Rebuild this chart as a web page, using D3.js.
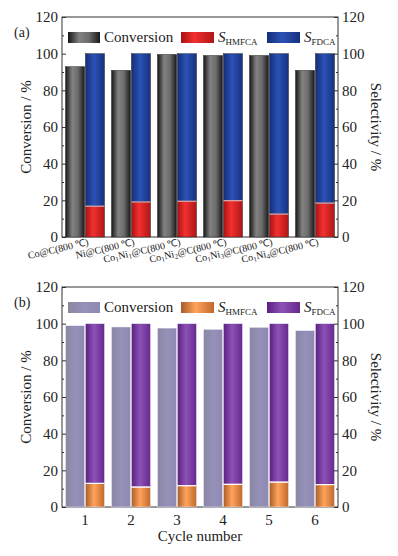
<!DOCTYPE html>
<html lang="en">
<head>
<meta charset="UTF-8">
<title>Conversion and selectivity</title>
<script src="https://cdn.jsdelivr.net/npm/d3@7"></script>
<style>
  body { margin: 0; background: #fff; }
  svg { display: block; font-family: "Liberation Serif", "Times New Roman", serif; }
  .tick text { font-size: 15px; fill: #222; }
  .axis path, .axis line { stroke: #333; }
</style>
</head>
<body>
<svg id="chart" width="398" height="556"></svg>
<script>
// panel (a): catalysts
const catalysts = ["Co@C(800 ℃)", "Ni@C(800 ℃)", "Co_1Ni_1@C(800 ℃)", "Co_1Ni_2@C(800 ℃)", "Co_1Ni_3@C(800 ℃)", "Co_1Ni_4@C(800 ℃)"];
const convA = [92.9, 90.9, 99.6, 99.0, 99.0, 90.9];
const hmfcaA = [16.8, 19.1, 19.5, 19.8, 12.5, 18.5];
const fdcaA = [83.2, 80.9, 80.5, 80.2, 87.5, 81.5];

// panel (b): recycling runs
const cycles = ["1", "2", "3", "4", "5", "6"];
const convB = [98.9, 98.2, 97.6, 96.9, 98.0, 96.2];
const hmfcaB = [12.9, 10.9, 11.6, 12.4, 13.6, 12.2];
const fdcaB = [87.1, 89.1, 88.4, 87.6, 86.4, 87.8];

const yTicks = [0, 20, 40, 60, 80, 100, 120];

const svg = d3.select("#chart");
const defs = svg.append("defs");

function grad(id, stops) {
  const g = defs.append("linearGradient").attr("id", id)
    .attr("x1", 0).attr("x2", 1).attr("y1", 0).attr("y2", 0);
  stops.forEach(s => g.append("stop").attr("offset", s[0]).attr("stop-color", s[1]));
}
grad("gGray", [[0, "#161616"], [0.35, "#828282"], [0.65, "#6c6c6c"], [1, "#181818"]]);
grad("gRed", [[0, "#a81212"], [0.4, "#f23030"], [1, "#b01616"]]);
grad("gBlue", [[0, "#142e78"], [0.45, "#2b52b6"], [1, "#16327e"]]);
grad("gLav", [[0, "#8a86a2"], [0.5, "#9591b8"], [1, "#8d89b0"]]);
grad("gPur", [[0, "#5c1f80"], [0.45, "#8c52b6"], [1, "#68288e"]]);
grad("gOra", [[0, "#a85c28"], [0.45, "#ffa45c"], [1, "#c0682c"]]);

const x0 = 62, x1 = 338;

function serif(sel) {
  sel.attr("font-family", null).attr("font-size", null);
  sel.select(".domain").remove();
}

function panel(opts) {
  const top = opts.top, bottom = opts.top + 220;
  const g = svg.append("g");

  const x = d3.scaleBand().domain(opts.cats).range([x0, x1])
    .paddingInner(0.152).paddingOuter(0.076);
  const xs = d3.scaleBand().domain(["conv", "sel"]).range([0, x.bandwidth()]).paddingInner(0.04);
  const y = d3.scaleLinear().domain([0, 120]).range([bottom, top]);

  // frame
  g.append("rect").attr("x", x0).attr("y", top).attr("width", x1 - x0).attr("height", bottom - top)
    .attr("fill", "none").attr("stroke", "#333").attr("stroke-width", 1);

  const bars = g.append("g");
  opts.cats.forEach((c, i) => {
    const bx = x(c);
    bars.append("rect")
      .attr("x", bx + xs("conv")).attr("width", xs.bandwidth())
      .attr("y", y(opts.conv[i])).attr("height", y(0) - y(opts.conv[i]))
      .attr("fill", `url(#${opts.fills[0]})`).attr("stroke", opts.edge).attr("stroke-width", 0.5);
    bars.append("rect")
      .attr("x", bx + xs("sel")).attr("width", xs.bandwidth())
      .attr("y", y(opts.hmfca[i])).attr("height", y(0) - y(opts.hmfca[i]))
      .attr("fill", `url(#${opts.fills[1]})`).attr("stroke", opts.edge).attr("stroke-width", 0.5);
    const tot = opts.hmfca[i] + opts.fdca[i];
    bars.append("rect")
      .attr("x", bx + xs("sel")).attr("width", xs.bandwidth())
      .attr("y", y(tot)).attr("height", y(opts.hmfca[i]) - y(tot))
      .attr("fill", `url(#${opts.fills[2]})`).attr("stroke", opts.edge).attr("stroke-width", 0.5);
    bars.append("line")
      .attr("x1", bx + xs("sel")).attr("x2", bx + xs("sel") + xs.bandwidth())
      .attr("y1", y(opts.hmfca[i])).attr("y2", y(opts.hmfca[i]))
      .attr("stroke", opts.sep).attr("stroke-width", 1.2);
  });

  // axes: major ticks inward, minor ticks at 10s
  const minor = d3.range(10, 120, 20);
  g.append("g").attr("class", "axis").attr("transform", `translate(${x0},0)`)
    .call(d3.axisRight(y).tickValues(yTicks).tickSize(4).tickFormat("")).call(serif);
  g.append("g").attr("class", "axis").attr("transform", `translate(${x0},0)`)
    .call(d3.axisRight(y).tickValues(minor).tickSize(2).tickFormat("")).call(serif);
  g.append("g").attr("class", "axis").attr("transform", `translate(${x0},0)`)
    .call(d3.axisLeft(y).tickValues(yTicks).tickSize(0).tickPadding(4)).call(serif);

  g.append("g").attr("class", "axis").attr("transform", `translate(${x1},0)`)
    .call(d3.axisLeft(y).tickValues(yTicks).tickSize(4).tickFormat("")).call(serif);
  g.append("g").attr("class", "axis").attr("transform", `translate(${x1},0)`)
    .call(d3.axisLeft(y).tickValues(minor).tickSize(2).tickFormat("")).call(serif);
  g.append("g").attr("class", "axis").attr("transform", `translate(${x1},0)`)
    .call(d3.axisRight(y).tickValues(yTicks).tickSize(0).tickPadding(4)).call(serif);

  // axis titles
  g.append("text").attr("transform", `translate(31,${(top + bottom) / 2}) rotate(-90)`)
    .attr("text-anchor", "middle").attr("font-size", 15).attr("fill", "#222").text("Conversion / %");
  g.append("text").attr("transform", `translate(371,${(top + bottom) / 2}) rotate(90)`)
    .attr("text-anchor", "middle").attr("font-size", 15).attr("fill", "#222").text("Selectivity / %");

  // panel tag
  g.append("text").attr("x", 14).attr("y", top + 20).attr("font-size", 14).attr("fill", "#222").text(opts.tag);

  // legend
  const ly = top + 15;
  const items = [
    { x: 68, w: 32, fill: opts.fills[0], label: ["Conversion", ""] },
    { x: 181, w: 33, fill: opts.fills[1], label: ["S", "HMFCA"] },
    { x: 267, w: 33, fill: opts.fills[2], label: ["S", "FDCA"] }
  ];
  items.forEach(it => {
    g.append("rect").attr("x", it.x).attr("y", ly).attr("width", it.w).attr("height", 11)
      .attr("fill", `url(#${it.fill})`);
    const t = g.append("text").attr("x", it.x + it.w + 4).attr("y", ly + 10)
      .attr("font-size", 15).attr("fill", "#222");
    if (it.label[1]) {
      t.append("tspan").attr("font-style", "italic").text(it.label[0]);
      t.append("tspan").attr("font-size", 9).attr("dy", 3).text(it.label[1]);
    } else {
      t.text(it.label[0]);
    }
  });

  return { x, y, xs, g, bottom };
}

// panel (a)
const pa = panel({
  top: 17, tag: "(a)", cats: catalysts, conv: convA, hmfca: hmfcaA, fdca: fdcaA,
  fills: ["gGray", "gRed", "gBlue"], edge: "#2a2a2a", sep: "#e8b0b0"
});
catalysts.forEach(c => {
  const cx = pa.x(c) + pa.x.bandwidth() / 2 + 4;
  const t = pa.g.append("text")
    .attr("transform", `translate(${cx},${pa.bottom + 8}) rotate(-13)`)
    .attr("text-anchor", "end").attr("font-size", 10).attr("fill", "#222");
  let shift = 0;
  c.split(/(_\d)/).filter(s => s).forEach(part => {
    if (part[0] === "_") {
      t.append("tspan").attr("font-size", 7).attr("dy", 2 - shift).text(part.slice(1));
      shift = 2;
    } else {
      t.append("tspan").attr("dy", -shift).text(part);
      shift = 0;
    }
  });
});

// panel (b)
const pb = panel({
  top: 287, tag: "(b)", cats: cycles, conv: convB, hmfca: hmfcaB, fdca: fdcaB,
  fills: ["gLav", "gOra", "gPur"], edge: "#f4f0f8", sep: "#ffffff"
});
pb.g.append("g").attr("class", "axis").attr("transform", `translate(0,${pb.bottom})`)
  .call(d3.axisBottom(pb.x).tickSize(0).tickPadding(7)).call(serif);
pb.g.append("text").attr("x", 200).attr("y", 541).attr("text-anchor", "middle")
  .attr("font-size", 15).attr("fill", "#222").text("Cycle number");
</script>
</body>
</html>
